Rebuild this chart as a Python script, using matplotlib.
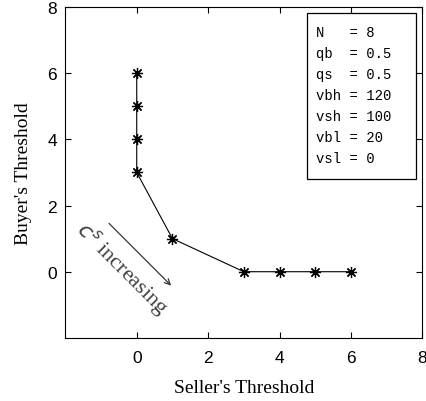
import matplotlib.pyplot as plt
from matplotlib.patches import Rectangle

seller = [0, 0, 0, 0, 1, 3, 4, 5, 6]
buyer = [6, 5, 4, 3, 1, 0, 0, 0, 0]

params = ["N", "qb", "qs", "vbh", "vsh", "vbl", "vsl"]
values = ["8", "0.5", "0.5", "120", "100", "20", "0"]

xticks = [0, 2, 4, 6, 8]
yticks = [0, 2, 4, 6, 8]


def main():
    plt.rcParams["font.family"] = "Liberation Sans"
    fig = plt.figure(figsize=(4.27, 4.02), dpi=100)
    ax = fig.add_axes([0.153, 0.157, 0.836, 0.823])
    ax.plot(seller, buyer, "k-", lw=0.8, marker=(8, 2, 0), ms=8, mew=0.9)
    ax.set_xlim(-2, 8)
    ax.set_ylim(-2, 8)
    ax.set_xticks(xticks)
    ax.set_yticks(yticks)
    ax.tick_params(direction="in", top=True, right=True, length=4,
                   labelsize=12.5)
    ax.tick_params(axis="x", pad=9)
    ax.tick_params(axis="y", pad=6)
    for s in ax.spines.values():
        s.set_linewidth(0.8)

    ax.set_xlabel("Seller's Threshold", family="Liberation Serif",
                  fontsize=14, labelpad=10)
    ax.set_ylabel("Buyer's Threshold", family="Liberation Serif",
                  fontsize=14, labelpad=11)

    # parameter box
    ax.add_patch(Rectangle((0.676, 0.480), 0.307, 0.502, transform=ax.transAxes,
                           fc="white", ec="black", lw=0.9, zorder=5))
    for i, (p, v) in enumerate(zip(params, values)):
        ax.text(0.701, 0.924 - i * 0.0635, "%-3s = %s" % (p, v),
                transform=ax.transAxes, va="center", ha="left",
                family="Liberation Mono", fontsize=10, zorder=6)

    ax.annotate("", xy=(1.02, -0.48), xytext=(-0.83, 1.52),
                arrowprops=dict(arrowstyle="->", color="#303830", lw=0.9,
                                mutation_scale=10))
    ax.text(-0.40, 0.10, "$c^s$ increasing", rotation=-45,
            ha="center", va="center", family="Liberation Serif",
            fontsize=16, color="#404040")

    fig.savefig("out.png")


if __name__ == "__main__":
    main()
